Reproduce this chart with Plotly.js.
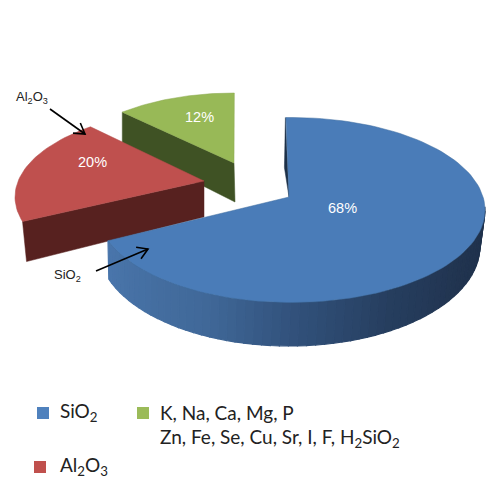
<!DOCTYPE html>
<html><head><meta charset="utf-8">
<script src="https://cdn.plot.ly/plotly-3.0.1.min.js"></script>
<style>html,body{margin:0;padding:0;background:#fff}#c{width:500px;height:500px}</style>
</head><body><div id="c"></div>
<script>
// Data
const sliceNames = ['SiO2', 'Al2O3', 'K, Na, Ca, Mg, P Zn, Fe, Se, Cu, Sr, I, F, H2SiO2'];
const sliceValues = [68, 20, 12];
const percentLabels = ['68%', '20%', '12%'];

// Exploded 3D projection of each slice (screen px)
const topColors = ['#4a7cb8', '#bf504e', '#98b957'];
const wallColors = ['#4a76ac', '#57211f', '#3f5224'];
const proj = [
  {ax:289, ay:197, cx:291, cy:210, rx:194, ry:92.5, off:-1.5, scale:1.03,
   bx:289, by:246, brx:191, bry:100},
  {ax:204, ay:181, cx:205, cy:197, rx:190, ry:88, off:9, scale:0.96},
  {ax:234, ay:163, cx:234, cy:173, rx:172, ry:80, off:2.7, scale:0.94}
];
const labelPos = [[342,208],[92,162],[199,117]];

const traces = [];
const total = sliceValues.reduce((a,b)=>a+b,0);
let cum = 0;
const spans = sliceValues.map(v => { const s = cum/total*360; cum += v; return [s, cum/total*360]; });
const rad = d => d*Math.PI/180;

function pt(p, d){ return [p.cx+p.rx*Math.sin(rad(d)), p.cy-p.ry*Math.cos(rad(d))]; }
function arc(p, t0, t1, n) {
  const xs=[], ys=[];
  for (let i=0;i<=n;i++){ const q=pt(p,t0+(t1-t0)*i/n); xs.push(q[0]); ys.push(q[1]); }
  return [xs,ys];
}
function poly(xs, ys, fill, lineColor, lw) {
  traces.push({type:'scatter', mode:'lines', x:[...xs, xs[0]], y:[...ys, ys[0]], fill:'toself',
    fillcolor:fill, line:{color:lineColor||fill, width:lw===undefined?0.5:lw}, hoverinfo:'skip', showlegend:false});
}
function tRange(i){ const p=proj[i], s=spans[i], a=s[0]+p.off;
  return [a, a+(s[1]-s[0])*p.scale]; }
function mix(a,b,f){ return 'rgb('+a.map((v,i)=>Math.round(v+(b[i]-v)*f)).join(',')+')'; }

// Green slice
{
  const p=proj[2], [t0,t1]=tRange(2), e=pt(p,t0);
  poly([e[0],p.ax,p.ax+1,e[0]],[e[1],p.ay,p.ay+39,e[1]+33],wallColors[2]);
  const [x,y]=arc(p,t0,t1,40);
  poly([p.ax,...x],[p.ay,...y],topColors[2],'#8aa84e');
}
// Red slice
{
  const p=proj[1], [t0,t1]=tRange(1), e=pt(p,t0);
  poly([e[0],p.ax,p.ax,e[0]+4],[e[1],p.ay,p.ay+36,e[1]+40],wallColors[1]);
  const [x,y]=arc(p,t0,t1,40);
  poly([p.ax,...x],[p.ay,...y],topColors[1],'#b04a48');
}
// Blue slice: curved outer wall with shading, then the top
{
  const p=proj[0], [t0,t1]=tRange(0);
  const stops=[[252,[74,118,172]],[205,[64,104,152]],[180,[50,82,124]],[150,[38,62,95]],[120,[33,52,80]],[88,[30,48,74]]];
  const n=60, tStart=88, tEnd=t1;
  const b={cx:p.bx,cy:p.by,rx:p.brx,ry:p.bry};
  for(let i=0;i<n;i++){
    const a=tStart+(tEnd-tStart)*i/n, c=tStart+(tEnd-tStart)*(i+1)/n, m=(a+c)/2;
    let col='rgb(30,48,74)';
    for(let k=0;k<stops.length-1;k++){
      if(m<=stops[k][0]&&m>=stops[k+1][0]){
        col=mix(stops[k][1],stops[k+1][1],(stops[k][0]-m)/(stops[k][0]-stops[k+1][0]));
      }
    }
    const [tx,ty]=arc(p,a,c,2), [bx,by]=arc(b,c,a,2);
    poly([...tx,...bx],[...ty,...by],col,col,1.2);
  }
  // thin visible inner cut
  const e=pt(p,t0);
  poly([e[0]-0.5,p.ax,e[0]-1.5],[e[1],p.ay,e[1]+50],'#1d3048');
  const [x,y]=arc(p,t0,t1,120);
  poly([p.ax,...x],[p.ay,...y],topColors[0],'#3f6c9f');
}

// Callout arrows with open heads
const arrows=[[50,109,85,134],[96,271,148,249]];
arrows.forEach(a=>{
  const ang=Math.atan2(a[3]-a[1],a[2]-a[0]), L=12, w=0.55;
  const hx=d=>a[2]-L*Math.cos(ang+d), hy=d=>a[3]-L*Math.sin(ang+d);
  traces.push({type:'scatter',mode:'lines',
    x:[a[0],a[2],null,hx(w),a[2],hx(-w)], y:[a[1],a[3],null,hy(w),a[3],hy(-w)],
    line:{color:'#000',width:1.6}, hoverinfo:'skip', showlegend:false});
});

// Legend swatches
const swatchX=[43,143,40], swatchY=[413,413,467], swatchColors=['#4f81bd','#9bbb59','#c0504d'];
traces.push({type:'scatter',mode:'markers',x:swatchX,y:swatchY,
  marker:{symbol:'square',size:12,color:swatchColors,line:{width:0}},hoverinfo:'skip',showlegend:false});

const annBase={xref:'x',yref:'y',showarrow:false};
const annotations=[];
percentLabels.forEach((t,i)=>annotations.push({...annBase,x:labelPos[i][0],y:labelPos[i][1],text:t,
  xanchor:'center',yanchor:'middle',font:{family:'Liberation Sans, Arial',size:14.5,color:'#fff'}}));
const calloutFont={family:'Liberation Sans, Arial',size:13,color:'#222'};
annotations.push({...annBase,x:14,y:97,text:'Al<sub>2</sub>O<sub>3</sub>',xanchor:'left',yanchor:'middle',font:calloutFont});
annotations.push({...annBase,x:52,y:275,text:'SiO<sub>2</sub>',xanchor:'left',yanchor:'middle',font:calloutFont});
const legendFont={family:'Lato, Open Sans',size:19,color:'#222'};
[[58,412,'SiO<sub>2</sub>'],[158,412,'K, Na, Ca, Mg, P'],[158,438,'Zn, Fe, Se, Cu, Sr, I, F, H<sub>2</sub>SiO<sub>2</sub>'],[58,466,'Al<sub>2</sub>O<sub>3</sub>']]
 .forEach(r=>annotations.push({...annBase,x:r[0],y:r[1],text:r[2],xanchor:'left',yanchor:'middle',font:legendFont}));

const hidden={visible:false,fixedrange:true};
Plotly.newPlot('c',traces,{
  width:500,height:500,margin:{l:0,r:0,t:0,b:0},showlegend:false,
  paper_bgcolor:'#fff',plot_bgcolor:'#fff',
  xaxis:{...hidden,range:[0,500]},
  yaxis:{...hidden,range:[500,0]},
  annotations
},{displayModeBar:false,staticPlot:true});
</script></body></html>
